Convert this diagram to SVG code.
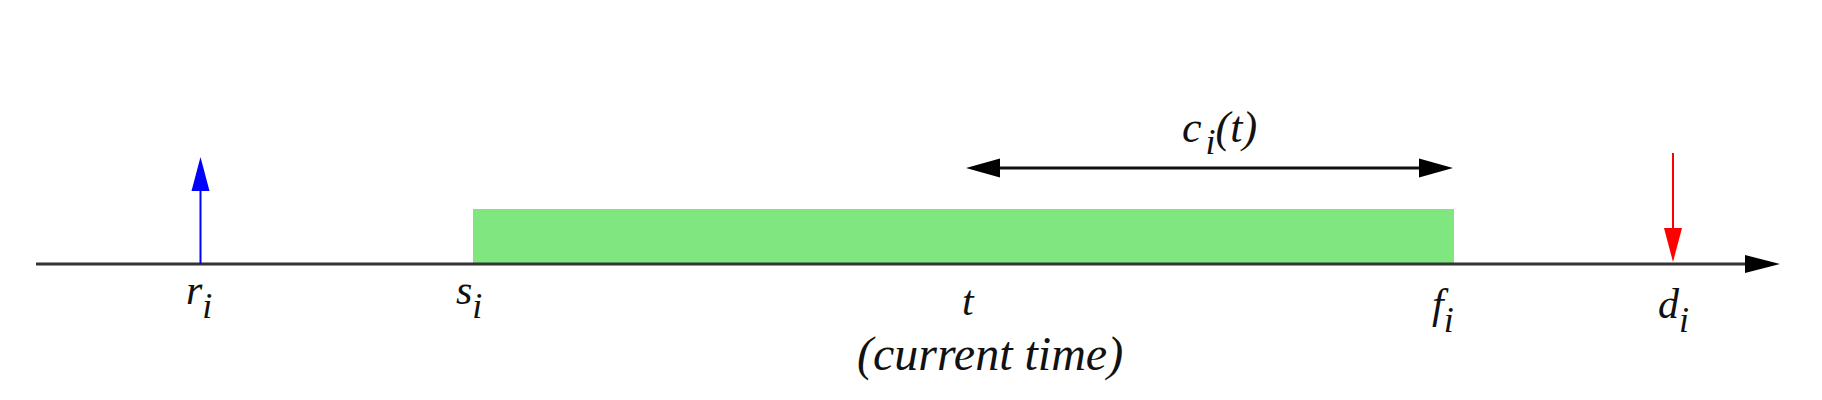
<svg xmlns="http://www.w3.org/2000/svg" width="1822" height="400" viewBox="0 0 1822 400">
<style>
text{font-family:'Liberation Serif','DejaVu Serif','Times New Roman',serif;font-style:italic;fill:#111}
.lbl{font-size:42px}
.sub{font-size:36px}
.axis{stroke:#333;stroke-width:3;fill:none}
</style>
<rect width="1822" height="400" fill="#ffffff"/>
<g id="exec-bar">
<rect x="473" y="209" width="981" height="55" fill="#80e680"/>
</g>
<g id="connectors">
<g id="time-axis">
<line class="axis" x1="36" y1="264" x2="1748" y2="264"/>
<polygon points="1780,264 1745,255 1745,273" fill="#000"/>
</g>
<g id="release-arrow">
<line x1="200.5" y1="264" x2="200.5" y2="188" stroke="#0000ff" stroke-width="2"/>
<polygon points="200.5,157 191.5,191 209.5,191" fill="#0000ff"/>
</g>
<g id="deadline-arrow">
<line x1="1673" y1="153" x2="1673" y2="231" stroke="#ff0000" stroke-width="2"/>
<polygon points="1673,262 1664,228 1682,228" fill="#ff0000"/>
</g>
<g id="remaining-arrow">
<line x1="996" y1="168" x2="1423" y2="168" stroke="#111" stroke-width="3"/>
<polygon points="966,168 1000,158.5 1000,177.5" fill="#000"/>
<polygon points="1453,168 1419,158.5 1419,177.5" fill="#000"/>
</g>
</g>
<g id="label-ri"><text class="lbl" x="186" y="304" font-family="Liberation Serif, serif">r<tspan class="sub" dy="14">i</tspan></text></g>
<g id="label-si"><text class="lbl" x="456" y="304" font-family="Liberation Serif, serif">s<tspan class="sub" dy="14">i</tspan></text></g>
<g id="label-t"><text class="lbl" x="962" y="315" font-family="Liberation Serif, serif">t</text></g>
<g id="label-fi"><text class="lbl" x="1432" y="318" font-family="Liberation Serif, serif">f<tspan class="sub" dy="14">i</tspan></text></g>
<g id="label-di"><text class="lbl" x="1658" y="318" font-family="Liberation Serif, serif">d<tspan class="sub" dy="14">i</tspan></text></g>
<g id="label-ci"><text x="1182" y="142" font-size="44" font-family="Liberation Serif, serif">c<tspan class="sub" dx="4" dy="12">i</tspan><tspan dy="-12">(t)</tspan></text></g>
<g id="label-current"><text x="857" y="370" font-size="48" font-family="Liberation Serif, serif">(current time)</text></g>
</svg>
